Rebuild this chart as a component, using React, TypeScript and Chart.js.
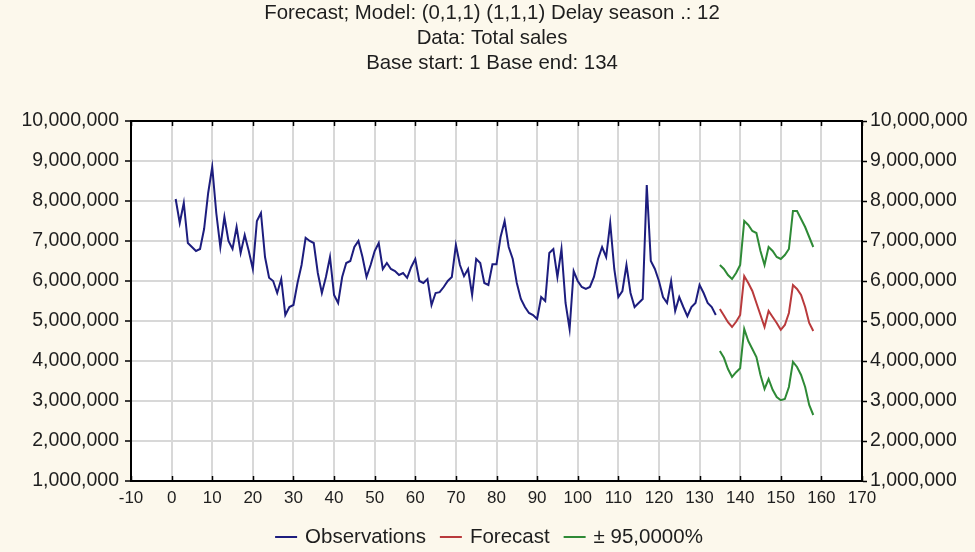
import React, { useEffect, useRef } from "react";
import { Chart, registerables } from "chart.js";

Chart.register(...registerables);

const titleLines = [
  "Forecast; Model: (0,1,1) (1,1,1) Delay season .: 12",
  "Data: Total sales",
  "Base start: 1 Base end: 134",
];
const seriesNames = ["Observations", "Forecast", "± 95,0000%"];
const seriesColors = ["#1d1d7e", "#b93a3c", "#2e8a36"];

const observationStart = 1;
const forecastStart = 135;

// values in millions
const observations = [
  8.05, 7.45, 7.95, 6.95, 6.85, 6.75, 6.8, 7.3, 8.2, 8.85,
  7.7, 6.85, 7.6, 7.0, 6.8, 7.35, 6.7, 7.15, 6.75, 6.3,
  7.5, 7.7, 6.6, 6.08, 6.0, 5.7, 6.05, 5.15, 5.35, 5.4,
  5.95, 6.4, 7.08, 7.0, 6.95, 6.2, 5.7, 6.1, 6.6, 5.65,
  5.45, 6.1, 6.45, 6.5, 6.85, 7.0, 6.6, 6.1, 6.4, 6.75,
  6.95, 6.3, 6.45, 6.3, 6.25, 6.15, 6.2, 6.08, 6.35, 6.55,
  6.0, 5.95, 6.05, 5.4, 5.7, 5.72, 5.85, 6.0, 6.1, 6.9,
  6.4, 6.12, 6.3, 5.65, 6.55, 6.45, 5.95, 5.9, 6.42, 6.42,
  7.1, 7.5, 6.85, 6.55, 5.95, 5.55, 5.35, 5.2, 5.15, 5.05,
  5.6, 5.5, 6.7, 6.8, 6.1, 6.8, 5.45, 4.8, 6.25, 6.0,
  5.85, 5.8, 5.85, 6.1, 6.55, 6.85, 6.6, 7.45, 6.3, 5.6,
  5.75, 6.4, 5.7, 5.35, 5.45, 5.55, 8.4, 6.5, 6.3, 6.0,
  5.6, 5.45, 6.0, 5.25, 5.6, 5.35, 5.12, 5.35, 5.45, 5.9,
  5.7, 5.45, 5.35, 5.15,
];
const forecast = [
  5.3, 5.14, 4.97, 4.85, 4.98, 5.15, 6.12, 5.95, 5.75, 5.45, 5.15, 4.85,
  5.25, 5.1, 4.95, 4.78, 4.9, 5.2, 5.9, 5.8, 5.65, 5.35, 4.95, 4.75,
];
const upper95 = [
  6.4, 6.3, 6.15, 6.05, 6.2, 6.4, 7.5, 7.4, 7.25, 7.2, 6.75, 6.4,
  6.85, 6.75, 6.6, 6.55, 6.65, 6.8, 7.75, 7.75, 7.55, 7.35, 7.1, 6.85,
];
const lower95 = [
  4.25, 4.08, 3.8, 3.6, 3.72, 3.82, 4.8, 4.5, 4.3, 4.1, 3.65, 3.3,
  3.55, 3.28, 3.1, 3.02, 3.05, 3.35, 3.98, 3.85, 3.65, 3.35, 2.9, 2.65,
];

const xTicks = [-10, 0, 10, 20, 30, 40, 50, 60, 70, 80, 90, 100, 110, 120, 130, 140, 150, 160, 170];
const yTicks = [1, 2, 3, 4, 5, 6, 7, 8, 9, 10];
const yUnit = 1000000;

const FONT = '"Liberation Sans", Arial, sans-serif';
const TEXT = "#1e1e1e";

const toPoints = (start: number, arr: number[]) => arr.map((v, i) => ({ x: start + i, y: v }));
const fmt = (v: number) => Math.round(v * yUnit).toLocaleString("en-US");

const decorPlugin = {
  id: "decor",
  beforeDraw(chart: any) {
    const { ctx, chartArea: a } = chart;
    ctx.save();
    ctx.fillStyle = "#fcf8ec";
    ctx.fillRect(0, 0, chart.width, chart.height);
    ctx.fillStyle = "#ffffff";
    ctx.fillRect(a.left, a.top, a.right - a.left, a.bottom - a.top);
    ctx.restore();
  },
  afterDraw(chart: any) {
    const { ctx, chartArea: a } = chart;
    const xs = chart.scales.x;
    ctx.save();
    ctx.strokeStyle = "#000";
    ctx.lineWidth = 2;
    ctx.beginPath();
    ctx.moveTo(a.left, a.top);
    ctx.lineTo(a.right, a.top);
    ctx.stroke();
    ctx.lineWidth = 1.5;
    ctx.beginPath();
    for (const v of xTicks) {
      const px = Math.round(xs.getPixelForValue(v)) + 0.5;
      ctx.moveTo(px, a.top);
      ctx.lineTo(px, a.top + 5);
      ctx.moveTo(px, a.bottom);
      ctx.lineTo(px, a.bottom - 5);
    }
    ctx.stroke();

    ctx.fillStyle = TEXT;
    ctx.font = `20.4px ${FONT}`;
    ctx.textAlign = "center";
    ctx.textBaseline = "middle";
    titleLines.forEach((t, i) => ctx.fillText(t, 492, 13 + i * 25));

    ctx.font = `20.5px ${FONT}`;
    ctx.textAlign = "left";
    const marker = 22, gapText = 8, gapItem = 14;
    const widths = seriesNames.map((n) => ctx.measureText(n).width);
    const total = widths.reduce((s, w) => s + marker + gapText + w, 0) + gapItem * (seriesNames.length - 1);
    let x = 489 - total / 2;
    const y = 537;
    seriesNames.forEach((n, i) => {
      ctx.strokeStyle = seriesColors[i];
      ctx.lineWidth = 2;
      ctx.beginPath();
      ctx.moveTo(x, y);
      ctx.lineTo(x + marker, y);
      ctx.stroke();
      x += marker + gapText;
      ctx.fillStyle = TEXT;
      ctx.fillText(n, x, y);
      x += widths[i] + gapItem;
    });
    ctx.restore();
  },
};

export default function App() {
  const ref = useRef<HTMLCanvasElement | null>(null);

  useEffect(() => {
    if (!ref.current) return;
    const line = (data: any[], color: string) => ({
      data,
      borderColor: color,
      backgroundColor: color,
      borderWidth: 2,
      pointRadius: 0,
      tension: 0,
      fill: false,
    });
    const chart = new Chart(ref.current, {
      type: "line",
      data: {
        datasets: [
          { label: seriesNames[0], ...line(toPoints(observationStart, observations), seriesColors[0]) },
          { label: seriesNames[1], ...line(toPoints(forecastStart, forecast), seriesColors[1]) },
          { label: seriesNames[2], ...line(toPoints(forecastStart, upper95), seriesColors[2]) },
          { label: seriesNames[2] + " lower", ...line(toPoints(forecastStart, lower95), seriesColors[2]) },
        ],
      },
      options: {
        responsive: false,
        animation: false,
        events: [],
        layout: { padding: { top: 121, left: 0, right: 0, bottom: 0 } },
        plugins: {
          legend: { display: false },
          title: { display: false },
          tooltip: { enabled: false },
        },
        scales: {
          x: {
            type: "linear",
            position: "bottom",
            min: -10,
            max: 170,
            afterBuildTicks: (s: any) => {
              s.ticks = xTicks.map((v) => ({ value: v }));
            },
            afterFit: (s: any) => {
              s.height = 71;
            },
            grid: { color: "#d8d8d8", lineWidth: 2, drawTicks: false },
            border: { color: "#000", width: 2 },
            ticks: {
              autoSkip: false,
              maxRotation: 0,
              padding: 7,
              color: TEXT,
              font: { family: FONT, size: 17 },
              callback: (v: any) => String(v),
            },
          },
          y: {
            type: "linear",
            position: "left",
            min: 1,
            max: 10,
            afterBuildTicks: (s: any) => {
              s.ticks = yTicks.map((v) => ({ value: v }));
            },
            afterFit: (s: any) => {
              s.width = 131;
            },
            grid: { color: "#d8d8d8", lineWidth: 2, tickColor: "#000", tickLength: 6, tickWidth: 1.5 },
            border: { color: "#000", width: 2 },
            ticks: {
              padding: 6,
              color: TEXT,
              font: { family: FONT, size: 19.5 },
              callback: (v: any) => fmt(Number(v)),
            },
          },
          y2: {
            type: "linear",
            position: "right",
            min: 1,
            max: 10,
            afterBuildTicks: (s: any) => {
              s.ticks = yTicks.map((v) => ({ value: v }));
            },
            afterFit: (s: any) => {
              s.width = 113;
            },
            grid: { drawOnChartArea: false, tickColor: "#000", tickLength: 5, tickWidth: 1.5 },
            border: { color: "#000", width: 2 },
            ticks: {
              padding: 3,
              color: TEXT,
              font: { family: FONT, size: 19.5 },
              callback: (v: any) => fmt(Number(v)),
            },
          },
        },
      },
      plugins: [decorPlugin],
    });
    return () => chart.destroy();
  }, []);

  return (
    <div style={{ position: "absolute", left: 0, top: 0, width: 975, height: 552, background: "#fcf8ec" }}>
      <canvas ref={ref} width={975} height={552} style={{ display: "block", width: 975, height: 552 }} />
    </div>
  );
}
